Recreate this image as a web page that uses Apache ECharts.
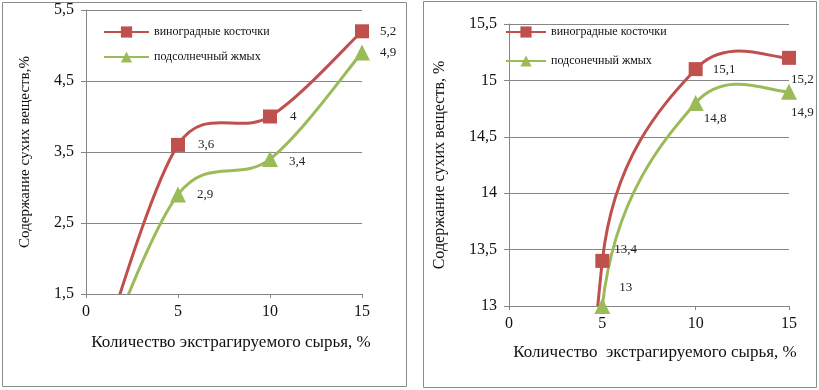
<!DOCTYPE html>
<html>
<head>
<meta charset="utf-8">
<script src="https://cdn.jsdelivr.net/npm/echarts@6/dist/echarts.min.js"></script>
<style>
  html, body { margin: 0; padding: 0; background: #fff; }
  #chart { width: 819px; height: 390px; }
</style>
</head>
<body>
<div id="chart"></div>
<script>
// x values (% of raw material)
const xValues = [0, 5, 10, 15];

// left chart
const leftGrape = [0, 3.6, 4, 5.2];
const leftSun = [0, 2.9, 3.4, 4.9];
const leftYTicks = { min: 1.5, max: 5.5, interval: 1 };

// right chart
const rightGrape = [0, 13.4, 15.1, 15.2];
const rightSun = [0, 13, 14.8, 14.9];
const rightYTicks = { min: 13, max: 15.5, interval: 0.5 };

const nameGrape = "виноградные косточки";
const nameSunLeft = "подсолнечный жмых";
const nameSunRight = "подсонечный жмых";

const RED = "#c0504d";
const GREEN = "#9bbb59";
const GRID = "#868686";
const FONT = "Liberation Serif";

const comma = (v) => String(v).replace(".", ",");

// label offsets for each point (px), index matches data; null = no label/marker
const offsLeftGrape = [null, [0, 0], [0, 0], [-2, 0]];
const offsLeftSun = [null, [-2, 0], [-2, 2], [-3, 0]];
const offsRightGrape = [null, [-8, -11], [-3, 0], [-18, 22]];
const offsRightSun = [null, [-4, -18], [-13, 16], [-19, 21]];

function buildData(ys, offs) {
  return xValues.map((x, i) => {
    if (!offs[i]) {
      return { value: [x, ys[i]], symbol: "none", label: { show: false } };
    }
    return { value: [x, ys[i]], label: { offset: offs[i] } };
  });
}

// smoothed curve like the office-chart one: bezier with 1/6 tangents, capped at half segment
function smoothCurve(ys, color, idx) {
  return {
    type: "custom",
    xAxisIndex: idx,
    yAxisIndex: idx,
    clip: true,
    z: 2,
    silent: true,
    data: [[xValues[0], ys[0]]],
    renderItem: (params, api) => {
      const pts = xValues.map((x, i) => api.coord([x, ys[i]]));
      const n = pts.length;
      const children = [];
      const handle = (from, to, seg) => {
        let dx = (to[0] - from[0]) / 6, dy = (to[1] - from[1]) / 6;
        const len = Math.hypot(dx, dy);
        if (len > seg / 2 && len > 0) {
          dx *= seg / 2 / len;
          dy *= seg / 2 / len;
        }
        return [dx, dy];
      };
      for (let i = 0; i < n - 1; i++) {
        const a = pts[Math.max(i - 1, 0)], b = pts[i], c = pts[i + 1], e = pts[Math.min(i + 2, n - 1)];
        const seg = Math.hypot(c[0] - b[0], c[1] - b[1]);
        const t1 = handle(a, c, seg);
        const t2 = handle(b, e, seg);
        children.push({
          type: "bezierCurve",
          shape: {
            x1: b[0], y1: b[1], x2: c[0], y2: c[1],
            cpx1: b[0] + t1[0], cpy1: b[1] + t1[1],
            cpx2: c[0] - t2[0], cpy2: c[1] - t2[1]
          },
          style: { fill: null, stroke: color, lineWidth: 3 }
        });
      }
      return { type: "group", children: children };
    }
  };
}

function markerSeries(name, ys, offs, color, symbol, idx) {
  return {
    name: name,
    type: "line",
    xAxisIndex: idx,
    yAxisIndex: idx,
    z: 3,
    symbol: symbol,
    symbolSize: symbol === "rect" ? 14 : 16,
    showAllSymbol: true,
    lineStyle: { color: color, width: 3, opacity: 0 },
    itemStyle: { color: color },
    label: {
      show: true,
      position: "right",
      distance: 13,
      color: "#222",
      fontFamily: FONT,
      fontSize: 13,
      formatter: (p) => comma(p.value[1])
    },
    data: buildData(ys, offs)
  };
}

function xAxis(idx, gap, shift) {
  return {
    type: "value",
    gridIndex: idx,
    min: 0,
    max: 15,
    interval: 5,
    name: idx === 0 ? "Количество экстрагируемого сырья, %" : "Количество  экстрагируемого сырья, %",
    nameLocation: "middle",
    nameGap: gap,
    nameTextStyle: { fontFamily: FONT, fontSize: 17, color: "#111", padding: [0, 0, 0, shift] },
    axisLine: { show: true, lineStyle: { color: GRID } },
    axisTick: { show: true, length: 4, lineStyle: { color: GRID } },
    splitLine: { show: false },
    axisLabel: { fontFamily: FONT, fontSize: 16, color: "#111", margin: 10 }
  };
}

function yAxis(idx, ticks, gap, name, fs) {
  return {
    type: "value",
    gridIndex: idx,
    min: ticks.min,
    max: ticks.max,
    interval: ticks.interval,
    name: name,
    nameLocation: "middle",
    nameGap: gap,
    nameTextStyle: { fontFamily: FONT, fontSize: fs, color: "#111" },
    axisLine: { show: true, lineStyle: { color: GRID } },
    axisTick: { show: true, length: 5, lineStyle: { color: GRID } },
    splitLine: { show: true, lineStyle: { color: GRID, width: 1 } },
    axisLabel: { fontFamily: FONT, fontSize: 16, color: "#111", margin: 12, formatter: comma }
  };
}

const chart = echarts.init(document.getElementById("chart"), null, { renderer: "canvas" });

const option = {
  animation: false,
  backgroundColor: "#fff",
  graphic: [
    { type: "rect", shape: { x: 2.5, y: 2.5, width: 404, height: 384 }, style: { fill: "none", stroke: "#8a8a8a", lineWidth: 1 } },
    { type: "rect", shape: { x: 423.5, y: 1.5, width: 393, height: 386 }, style: { fill: "none", stroke: "#8a8a8a", lineWidth: 1 } }
  ],
  grid: [
    { left: 86, right: 457, top: 10, bottom: 96 },
    { left: 509, right: 30, top: 24, bottom: 84 }
  ],
  legend: [
    {
      data: [nameGrape, nameSunLeft],
      orient: "vertical",
      left: 98,
      top: 21,
      itemWidth: 45,
      itemHeight: 14,
      itemGap: 13,
      lineStyle: { opacity: 1 },
      textStyle: { fontFamily: FONT, fontSize: 12, color: "#111" }
    },
    {
      data: [nameGrape, nameSunRight],
      orient: "vertical",
      left: 500,
      top: 21,
      itemWidth: 40,
      itemHeight: 14,
      itemGap: 17,
      lineStyle: { opacity: 1 },
      textStyle: { fontFamily: FONT, fontSize: 12, color: "#111" }
    }
  ],
  xAxis: [xAxis(0, 40, 14), xAxis(1, 38, 12)],
  yAxis: [
    yAxis(0, leftYTicks, 53, "Содержание сухих веществ,%", 15),
    yAxis(1, rightYTicks, 61, "Содержание сухих веществ, %", 16)
  ],
  series: [
    smoothCurve(leftGrape, RED, 0),
    smoothCurve(leftSun, GREEN, 0),
    smoothCurve(rightGrape, RED, 1),
    smoothCurve(rightSun, GREEN, 1),
    markerSeries(nameGrape, leftGrape, offsLeftGrape, RED, "rect", 0),
    markerSeries(nameSunLeft, leftSun, offsLeftSun, GREEN, "triangle", 0),
    markerSeries(nameGrape, rightGrape, offsRightGrape, RED, "rect", 1),
    markerSeries(nameSunRight, rightSun, offsRightSun, GREEN, "triangle", 1)
  ]
};

chart.setOption(option);
</script>
</body>
</html>
